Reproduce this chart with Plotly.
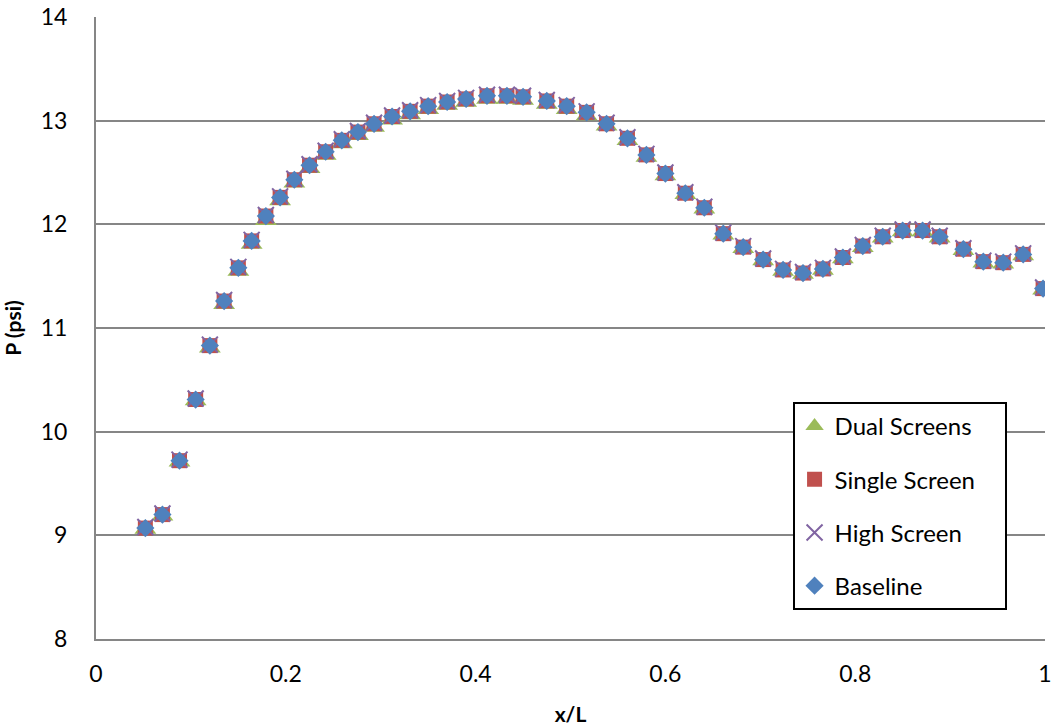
import plotly.graph_objects as go

x_over_L = [0.052, 0.070, 0.088, 0.105, 0.120, 0.135, 0.150, 0.164, 0.179, 0.194,
            0.209, 0.225, 0.242, 0.259, 0.276, 0.293, 0.312, 0.331, 0.350, 0.370,
            0.390, 0.412, 0.433, 0.450, 0.475, 0.496, 0.517, 0.538, 0.560, 0.580,
            0.600, 0.621, 0.641, 0.661, 0.682, 0.703, 0.724, 0.745, 0.766, 0.787,
            0.808, 0.829, 0.850, 0.871, 0.889, 0.914, 0.935, 0.956, 0.977, 0.998]

baseline = [9.07, 9.20, 9.72, 10.31, 10.83, 11.26, 11.58, 11.84, 12.08, 12.26,
            12.43, 12.57, 12.70, 12.81, 12.89, 12.97, 13.04, 13.09, 13.14, 13.18,
            13.21, 13.24, 13.24, 13.23, 13.19, 13.14, 13.08, 12.97, 12.83, 12.67,
            12.49, 12.30, 12.16, 11.91, 11.78, 11.66, 11.56, 11.53, 11.57, 11.68,
            11.79, 11.88, 11.94, 11.94, 11.88, 11.76, 11.64, 11.63, 11.71, 11.38]

dual_screens = [9.06, 9.19, 9.71, 10.30, 10.81, 11.23, 11.55, 11.81, 12.04, 12.23,
                12.40, 12.54, 12.67, 12.78, 12.86, 12.94, 13.01, 13.06, 13.11, 13.15,
                13.18, 13.21, 13.21, 13.20, 13.16, 13.11, 13.05, 12.95, 12.81, 12.65,
                12.47, 12.29, 12.15, 11.90, 11.77, 11.65, 11.55, 11.52, 11.56, 11.67,
                11.78, 11.87, 11.93, 11.93, 11.87, 11.75, 11.63, 11.62, 11.70, 11.37]

single_screen = [9.07, 9.20, 9.72, 10.31, 10.83, 11.26, 11.58, 11.84, 12.08, 12.26,
                 12.43, 12.57, 12.70, 12.81, 12.89, 12.97, 13.04, 13.09, 13.14, 13.18,
                 13.21, 13.24, 13.24, 13.23, 13.19, 13.14, 13.08, 12.97, 12.83, 12.67,
                 12.49, 12.30, 12.16, 11.91, 11.78, 11.66, 11.56, 11.53, 11.57, 11.68,
                 11.79, 11.88, 11.94, 11.94, 11.88, 11.76, 11.64, 11.63, 11.71, 11.38]

high_screen = [9.08, 9.21, 9.73, 10.32, 10.84, 11.27, 11.59, 11.85, 12.09, 12.27,
               12.44, 12.58, 12.71, 12.82, 12.90, 12.98, 13.05, 13.10, 13.15, 13.19,
               13.22, 13.25, 13.25, 13.24, 13.20, 13.15, 13.09, 12.98, 12.84, 12.68,
               12.50, 12.31, 12.17, 11.92, 11.79, 11.67, 11.57, 11.54, 11.58, 11.69,
               11.80, 11.89, 11.95, 11.95, 11.89, 11.77, 11.65, 11.64, 11.72, 11.39]

series_names = ["Dual Screens", "Single Screen", "High Screen", "Baseline"]

y_ticks = [8, 9, 10, 11, 12, 13, 14]
x_ticks = [0, 0.2, 0.4, 0.6, 0.8, 1]
x_tick_labels = ["0", "0.2", "0.4", "0.6", "0.8", "1"]

FONT = "Lato, 'Open Sans', sans-serif"
PAD = "\u00a0" * 4  # extra right padding inside legend box

markers = [
    dict(symbol="triangle-up", size=19, color="#9BBB59"),
    dict(symbol="square", size=15, color="#C0504D"),
    dict(symbol="x-thin", size=16, color="#8064A2", line=dict(color="#8064A2", width=2)),
    dict(symbol="diamond", size=14, color="#4F81BD"),
]
values = [dual_screens, single_screen, high_screen, baseline]

fig = go.Figure()
for i, (name, ys, marker) in enumerate(zip(series_names, values, markers)):
    fig.add_trace(go.Scatter(
        x=x_over_L, y=ys, mode="markers", name=name + PAD, marker=marker,
        legendgroup=f"g{i}",
    ))

fig.update_layout(
    width=1053, height=727,
    margin=dict(l=96, r=8, t=17, b=88),
    paper_bgcolor="white", plot_bgcolor="white",
    font=dict(family=FONT, size=23, color="black"),
    showlegend=True,
    legend=dict(
        x=0.734, y=0.381, xanchor="left", yanchor="top",
        bordercolor="black", borderwidth=2, bgcolor="white",
        font=dict(family=FONT, size=24, color="black"),
        traceorder="grouped", tracegroupgap=19,
    ),
    xaxis=dict(
        range=[0, 1], tickvals=x_ticks, ticktext=x_tick_labels,
        showgrid=False, zeroline=False, automargin=False,
        showline=True, linecolor="#868686", linewidth=2,
        ticks="outside", ticklen=13, tickcolor="rgba(0,0,0,0)",
        tickfont=dict(size=23),
        title=dict(text="<b>x/L</b>", font=dict(family=FONT, size=21), standoff=22),
    ),
    yaxis=dict(
        range=[8, 14], tickvals=y_ticks,
        showgrid=True, gridcolor="#868686", gridwidth=2,
        zeroline=False, automargin=False,
        showline=True, linecolor="#868686", linewidth=2,
        ticks="outside", ticklen=22, tickcolor="rgba(0,0,0,0)",
        tickfont=dict(size=23),
        title=dict(text="<b>P (psi)</b>", font=dict(family=FONT, size=21), standoff=14),
    ),
)

fig.write_html("out.html", config={"displayModeBar": False},
               post_script="document.body.style.margin='0';document.body.style.overflow='hidden';")
